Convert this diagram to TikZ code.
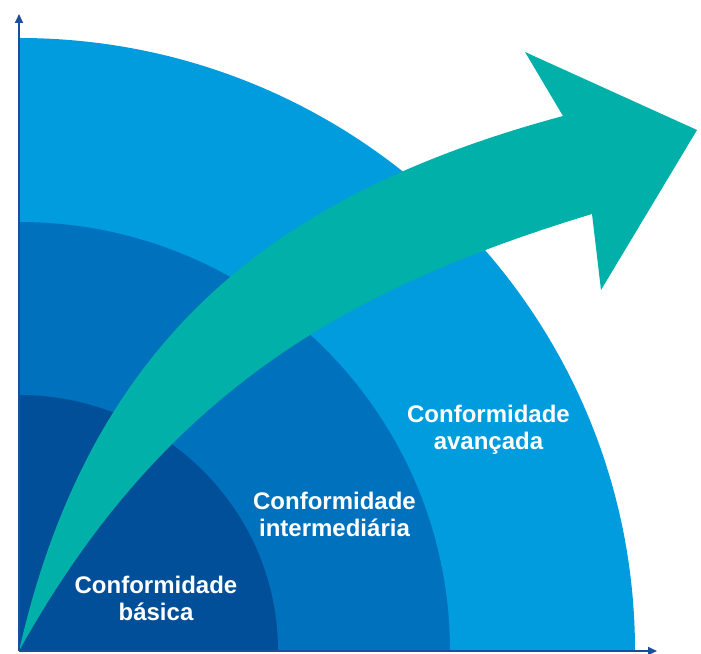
\documentclass[tikz,border=0pt]{standalone}
\usepackage{fontspec}
\setmainfont{Liberation Sans}
\usetikzlibrary{arrows.meta}
\definecolor{outerblue}{HTML}{009CDE}
\definecolor{midblue}{HTML}{0071BC}
\definecolor{innerblue}{HTML}{004F98}
\definecolor{teal}{HTML}{00B0A9}
\definecolor{axisblue}{HTML}{1B4F9B}
\tikzset{
  axisline/.style={draw=axisblue, line width=1.6pt, -{Triangle[length=9pt,width=8pt]}},
  label/.style={text=white, font=\bfseries\fontsize{24}{27.5}\selectfont, align=center, inner sep=0pt, anchor=base},
}
\begin{document}
\begin{tikzpicture}[x=1pt,y=1pt]
\useasboundingbox (0,0) rectangle (701,653);
\coordinate (O) at (19,2);
\coordinate (ytip) at (19,639);
\coordinate (xtip) at (657,2);
% quarter discs
\fill[outerblue] (O) -- ++(616,0) arc[start angle=0, end angle=90, x radius=616, y radius=613] -- cycle;
\fill[midblue] (O) -- ++(431,0) arc[start angle=0, end angle=90, x radius=431, y radius=429] -- cycle;
\fill[innerblue] (O) -- ++(259,0) arc[start angle=0, end angle=90, x radius=259, y radius=256] -- cycle;
% growth arrow
\fill[teal] (O) .. controls (90,314) and (273.5,459) .. (563,537)
  -- (525,601) -- (697,523) -- (601,363) -- (592,439)
  .. controls (352.8,366.3) and (164.5,264.5) .. (O) -- cycle;
% labels (anchor = baseline of last line)
\node[label] (adv) at (488.5,203) {Conformidade\\avançada};
\node[label] (mid) at (334.5,116) {Conformidade\\intermediária};
\node[label] (bas) at (156,32) {Conformidade\\básica};
% axes
\draw[axisline] (O) -- (ytip);
\draw[axisline] (O) -- (xtip);
\end{tikzpicture}
\end{document}
